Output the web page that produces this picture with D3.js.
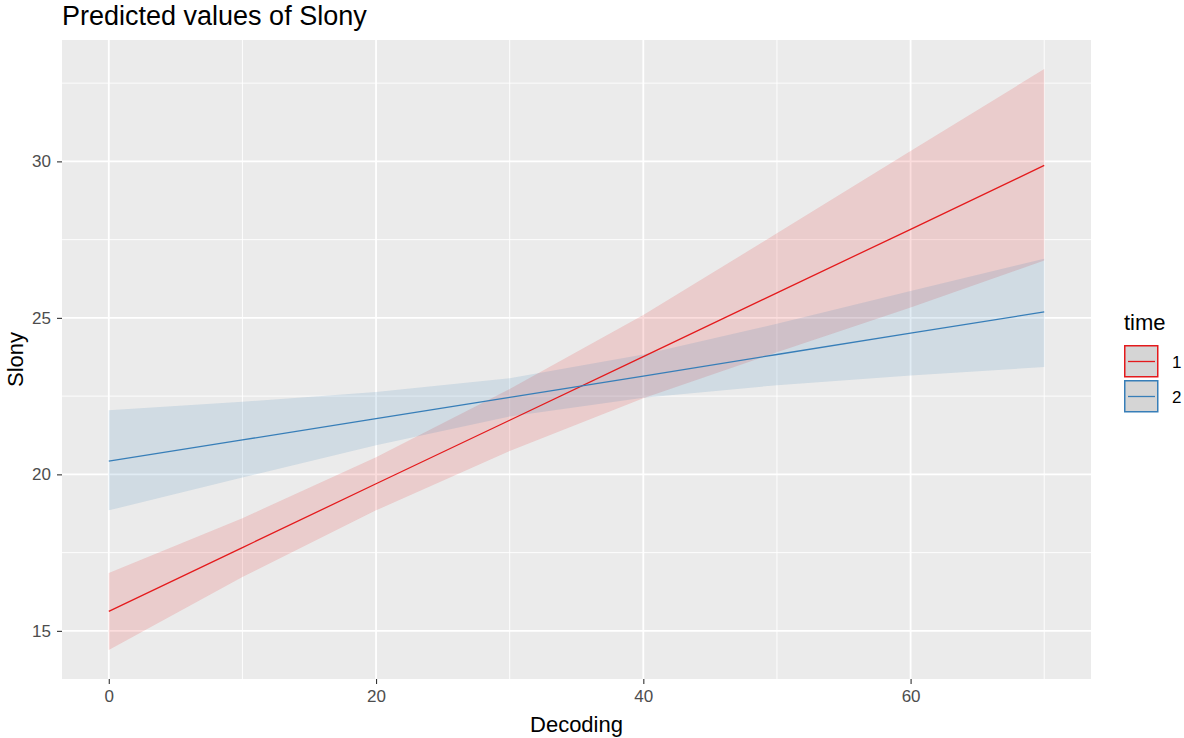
<!DOCTYPE html>
<meta charset="utf-8">
<style>
body { margin: 0; background: #fff; }
text { font-family: "Liberation Sans", Arial, sans-serif; }
</style>
<body>
<script src="https://cdn.jsdelivr.net/npm/d3@7"></script>
<script>
var width = 1184, height = 738;

// data
var decoding = [0, 10, 20, 30, 40, 50, 60, 70];
var timeLevels = ["1", "2"];
var pred1 = [15.62, 17.66, 19.70, 21.73, 23.76, 25.80, 27.83, 29.87];
var low1  = [14.39, 16.72, 18.85, 20.75, 22.43, 23.90, 25.33, 26.83];
var high1 = [16.85, 18.60, 20.55, 22.73, 25.09, 27.70, 30.33, 32.95];
var pred2 = [20.42, 21.10, 21.78, 22.46, 23.14, 23.83, 24.51, 25.19];
var low2  = [18.85, 19.90, 20.93, 21.85, 22.45, 22.85, 23.16, 23.43];
var high2 = [22.05, 22.32, 22.63, 23.07, 23.83, 24.81, 25.86, 26.89];
var xTicks = [0, 20, 40, 60];
var yTicks = [15, 20, 25, 30];

var colors = ["#E41A1C", "#377EB8"];

var series = [
  { key: timeLevels[0], pred: pred1, low: low1, high: high1, color: colors[0] },
  { key: timeLevels[1], pred: pred2, low: low2, high: high2, color: colors[1] }
].map(function(s) {
  s.points = decoding.map(function(x, i) {
    return { x: x, y: s.pred[i], lo: s.low[i], hi: s.high[i] };
  });
  return s;
});

var panel = { left: 62, right: 1091, top: 40, bottom: 679 };

// ggplot style 5% expansion
function expand(ext) {
  var pad = (ext[1] - ext[0]) * 0.05;
  return [ext[0] - pad, ext[1] + pad];
}
var allY = low1.concat(high1, low2, high2);

var x = d3.scaleLinear()
    .domain(expand(d3.extent(decoding)))
    .range([panel.left, panel.right]);

var y = d3.scaleLinear()
    .domain(expand(d3.extent(allY)))
    .range([panel.bottom, panel.top]);

var svg = d3.select("body").append("svg")
    .attr("width", width)
    .attr("height", height);

// panel background
svg.append("rect")
    .attr("x", panel.left).attr("y", panel.top)
    .attr("width", panel.right - panel.left)
    .attr("height", panel.bottom - panel.top)
    .attr("fill", "#EBEBEB");

var grid = svg.append("g");
var xMinor = [10, 30, 50, 70];
var yMinor = [17.5, 22.5, 27.5, 32.5];

grid.selectAll(".xminor").data(xMinor).enter().append("line")
    .attr("x1", d => x(d)).attr("x2", d => x(d))
    .attr("y1", panel.top).attr("y2", panel.bottom)
    .attr("stroke", "#fff").attr("stroke-width", 0.9);
grid.selectAll(".yminor").data(yMinor).enter().append("line")
    .attr("y1", d => y(d)).attr("y2", d => y(d))
    .attr("x1", panel.left).attr("x2", panel.right)
    .attr("stroke", "#fff").attr("stroke-width", 0.9);
grid.selectAll(".xmajor").data(xTicks).enter().append("line")
    .attr("x1", d => x(d)).attr("x2", d => x(d))
    .attr("y1", panel.top).attr("y2", panel.bottom)
    .attr("stroke", "#fff").attr("stroke-width", 1.8);
grid.selectAll(".ymajor").data(yTicks).enter().append("line")
    .attr("y1", d => y(d)).attr("y2", d => y(d))
    .attr("x1", panel.left).attr("x2", panel.right)
    .attr("stroke", "#fff").attr("stroke-width", 1.8);

var area = d3.area()
    .x(d => x(d.x))
    .y0(d => y(d.lo))
    .y1(d => y(d.hi));

var line = d3.line()
    .x(d => x(d.x))
    .y(d => y(d.y));

svg.append("g").selectAll("path").data(series).enter().append("path")
    .attr("d", d => area(d.points))
    .attr("fill", d => d.color)
    .attr("fill-opacity", 0.15);

svg.append("g").selectAll("path").data(series).enter().append("path")
    .attr("d", d => line(d.points))
    .attr("fill", "none")
    .attr("stroke", d => d.color)
    .attr("stroke-width", 1.3);

// axes
var xAxis = svg.append("g")
    .attr("transform", "translate(0," + panel.bottom + ")")
    .call(d3.axisBottom(x).tickValues(xTicks).tickSize(5).tickPadding(6));
var yAxis = svg.append("g")
    .attr("transform", "translate(" + panel.left + ",0)")
    .call(d3.axisLeft(y).tickValues(yTicks).tickSize(5).tickPadding(6));

[xAxis, yAxis].forEach(function(a) {
  a.select(".domain").remove();
  a.selectAll(".tick line").attr("stroke", "#333333").attr("stroke-width", 1.1);
  a.selectAll(".tick text")
      .attr("fill", "#4D4D4D")
      .style("font-size", "17px")
      .style("font-family", "'Liberation Sans', Arial, sans-serif");
});

// titles
svg.append("text")
    .attr("x", panel.left).attr("y", 25)
    .style("font-size", "27px")
    .attr("fill", "#000")
    .text("Predicted values of Slony");

svg.append("text")
    .attr("x", (panel.left + panel.right) / 2).attr("y", 732)
    .attr("text-anchor", "middle")
    .style("font-size", "22px")
    .text("Decoding");

svg.append("text")
    .attr("transform", "translate(23," + ((panel.top + panel.bottom) / 2) + ") rotate(-90)")
    .attr("text-anchor", "middle")
    .style("font-size", "22px")
    .text("Slony");

// legend
var legend = svg.append("g").attr("transform", "translate(1124,0)");
legend.append("text")
    .attr("x", 0).attr("y", 330)
    .style("font-size", "22px")
    .text("time");

var keys = legend.selectAll(".key").data(series).enter().append("g")
    .attr("transform", (d, i) => "translate(0," + (345 + i * 35) + ")");
keys.append("rect")
    .attr("x", 0.75).attr("y", 0.75)
    .attr("width", 33).attr("height", 31)
    .attr("fill", "#D5D5D5")
    .attr("stroke", d => d.color)
    .attr("stroke-width", 1.5);
keys.append("line")
    .attr("x1", 4).attr("x2", 31)
    .attr("y1", 16.5).attr("y2", 16.5)
    .attr("stroke", d => d.color)
    .attr("stroke-width", 1.3);
keys.append("text")
    .attr("x", 48).attr("y", 23)
    .style("font-size", "17px")
    .text(d => d.key);
</script>
</body>
